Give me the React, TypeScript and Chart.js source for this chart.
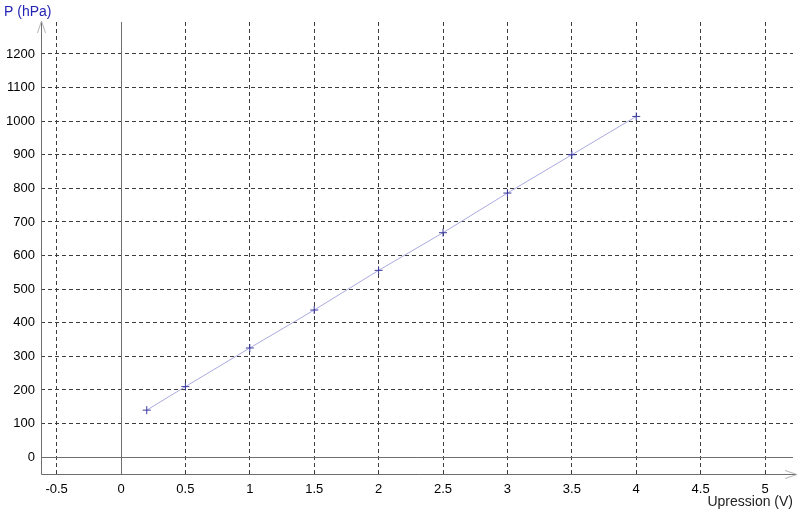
import React, { useEffect, useRef } from "react";
import { Chart, registerables } from "chart.js";

Chart.register(...registerables);

const voltages = [0.2, 0.5, 1, 1.5, 2, 2.5, 3, 3.5, 4];
const pressures = [140, 210, 325, 438, 556, 668, 786, 900, 1014];
const xTickValues = [-0.5, 0, 0.5, 1, 1.5, 2, 2.5, 3, 3.5, 4, 4.5, 5];
const yTickValues = [0, 100, 200, 300, 400, 500, 600, 700, 800, 900, 1000, 1100, 1200];
const xTitle = "Upression (V)";
const yTitle = "P (hPa)";

const FONT = "'Liberation Sans', Arial, sans-serif";

const axesPlugin = {
  id: "customAxes",
  beforeDatasetsDraw(chart: any) {
    const { ctx, chartArea, scales } = chart;
    const x0 = Math.round(scales.x.getPixelForValue(0)) + 0.5;
    const y0 = Math.round(scales.y.getPixelForValue(0)) + 0.5;
    const left = Math.round(chartArea.left) + 0.5;
    const bottom = Math.round(chartArea.bottom) + 0.5;
    ctx.save();
    ctx.lineWidth = 1;
    ctx.setLineDash([]);
    ctx.strokeStyle = "#6e6e6e";
    ctx.beginPath();
    ctx.moveTo(x0, chartArea.top);
    ctx.lineTo(x0, bottom);
    ctx.moveTo(left, y0);
    ctx.lineTo(chartArea.right, y0);
    // frame
    ctx.moveTo(left, bottom);
    ctx.lineTo(left, chartArea.top - 1);
    ctx.moveTo(left, bottom);
    ctx.lineTo(chartArea.right + 4, bottom);
    ctx.stroke();
    // arrowheads
    ctx.strokeStyle = "#b4b4b4";
    ctx.beginPath();
    ctx.moveTo(left - 4, chartArea.top + 11);
    ctx.lineTo(left, chartArea.top - 1);
    ctx.lineTo(left + 4, chartArea.top + 11);
    ctx.moveTo(chartArea.right - 8, bottom - 4);
    ctx.lineTo(chartArea.right + 4, bottom);
    ctx.lineTo(chartArea.right - 8, bottom + 4);
    ctx.stroke();
    ctx.restore();
  },
  afterDraw(chart: any) {
    const { ctx, chartArea } = chart;
    ctx.save();
    ctx.font = `14px ${FONT}`;
    ctx.textBaseline = "middle";
    ctx.fillStyle = "#2424b4";
    ctx.textAlign = "left";
    ctx.fillText(yTitle, 4, 12);
    ctx.fillStyle = "#222222";
    ctx.textAlign = "right";
    ctx.fillText(xTitle, chartArea.right, 502);
    ctx.restore();
  },
};

export default function App() {
  const canvasRef = useRef<HTMLCanvasElement | null>(null);

  useEffect(() => {
    document.body.style.margin = "0";
    const canvas = canvasRef.current;
    if (!canvas) return;
    const gridColor = (c: any) =>
      c.tick && c.tick.value === 0 ? "rgba(0,0,0,0)" : "#3c3c3c";
    const chart = new Chart(canvas, {
      type: "scatter",
      data: {
        datasets: [
          {
            data: voltages.map((v, i) => ({ x: v, y: pressures[i] })),
            showLine: true,
            borderColor: "#aaaae0",
            borderWidth: 1,
            pointStyle: "cross",
            pointRadius: 4,
            pointHoverRadius: 4,
            pointBorderColor: "#3a3aa0",
            pointBackgroundColor: "#3a3aa0",
            pointBorderWidth: 1,
          },
        ],
      },
      options: {
        animation: false,
        responsive: false,
        devicePixelRatio: 1,
        layout: { padding: { top: 22, right: 7, left: 0, bottom: 0 } },
        plugins: {
          legend: { display: false },
          tooltip: { enabled: false },
          title: { display: false },
        },
        scales: {
          x: {
            type: "linear",
            min: -0.621,
            max: 5.217,
            afterBuildTicks: (scale: any) => {
              scale.ticks = xTickValues.map((value) => ({ value }));
            },
            afterFit: (scale: any) => {
              scale.height = 40;
            },
            ticks: {
              color: "#000",
              font: { family: FONT, size: 13 },
              padding: 8,
              maxRotation: 0,
              autoSkip: false,
              callback: (v: any) => String(v),
            },
            grid: { color: gridColor, lineWidth: 1, drawTicks: false },
            border: { display: false, dash: [4, 3] },
          },
          y: {
            type: "linear",
            min: -50,
            max: 1295,
            afterBuildTicks: (scale: any) => {
              scale.ticks = yTickValues.map((value) => ({ value }));
            },
            afterFit: (scale: any) => {
              scale.width = 41;
            },
            ticks: {
              color: "#000",
              font: { family: FONT, size: 13 },
              padding: 6,
              autoSkip: false,
              callback: (v: any) => String(v),
            },
            grid: { color: gridColor, lineWidth: 1, drawTicks: false },
            border: { display: false, dash: [4, 3] },
          },
        },
      },
      plugins: [axesPlugin],
    } as any);
    return () => chart.destroy();
  }, []);

  return (
    <div style={{ width: 800, height: 514 }}>
      <canvas ref={canvasRef} width={800} height={514} />
    </div>
  );
}
